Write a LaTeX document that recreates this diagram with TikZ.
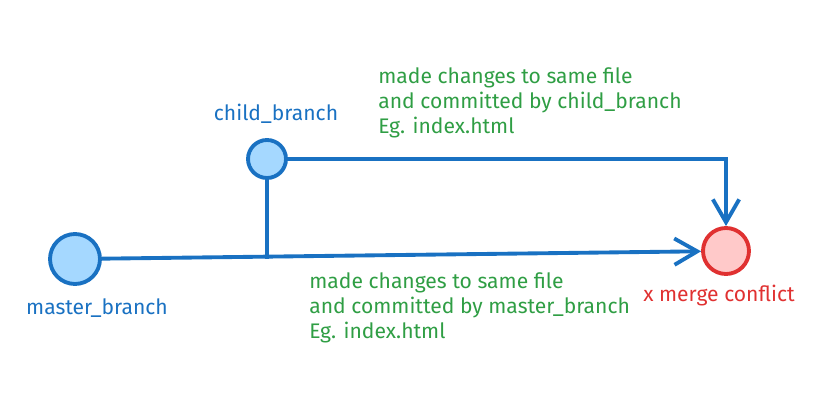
\documentclass[tikz,border=0pt]{standalone}
\usepackage{fontspec}
\setmainfont{Fira Sans}
\usetikzlibrary{arrows.meta, positioning}
\definecolor{gitblue}{HTML}{1971C2}
\definecolor{gitfill}{HTML}{A5D8FF}
\definecolor{gitgreen}{HTML}{2F9E44}
\definecolor{gitred}{HTML}{E03131}
\definecolor{redfill}{HTML}{FFC9C9}
\tikzset{
    % Branch commits - light blue circles
    commit/.style={circle, draw=gitblue, fill=gitfill, line width=2.2pt, inner sep=0pt},
    % Merge target - light red circle
    conflict/.style={circle, draw=gitred, fill=redfill, line width=2.2pt, inner sep=0pt, minimum size=0.92cm},
    % History lines
    branch line/.style={gitblue, line width=2.2pt},
    merge arrow/.style={branch line, -{Straight Barb[length=13pt, width=15pt, line width=2.2pt]}},
    % Text styles
    branch name/.style={text=gitblue, font=\fontsize{12}{14}\selectfont, inner sep=0pt},
    note/.style={text=gitgreen, font=\fontsize{12}{14.2}\selectfont, align=left, anchor=west, inner sep=0pt},
    warning/.style={text=gitred, font=\fontsize{12}{14}\selectfont, anchor=west, inner sep=0pt}
}
\begin{document}
\begin{tikzpicture}[x=0.02cm, y=-0.02cm]
    \useasboundingbox (0,0) rectangle (838,418);

    % --- Commits ---
    \node[commit, minimum size=1cm] (master) at (75,259) {};
    \node[commit, minimum size=0.76cm] (child) at (267,159) {};
    \node[conflict] (merge) at (726,251) {};
    \coordinate (fork) at (child |- master);

    % --- History lines ---
    \draw[branch line] (child) -- (fork);
    \draw[merge arrow] (master) -- (merge);
    \draw[merge arrow] (child) -- (child -| merge) -- (merge);

    % --- Labels ---
    \node[branch name] (childname) at (276,114) {child\_branch};
    \node[branch name] (mastername) at (97,308) {master\_branch};
    \node[note] (childnote) at (378,103)
        {made changes to same file\\and committed by child\_branch\\Eg. index.html};
    \node[note] (masternote) at (309,308)
        {made changes to same file\\and committed by master\_branch\\Eg. index.html};
    \node[warning] (conflictnote) at (643,296) {x merge conflict};

\end{tikzpicture}
\end{document}
